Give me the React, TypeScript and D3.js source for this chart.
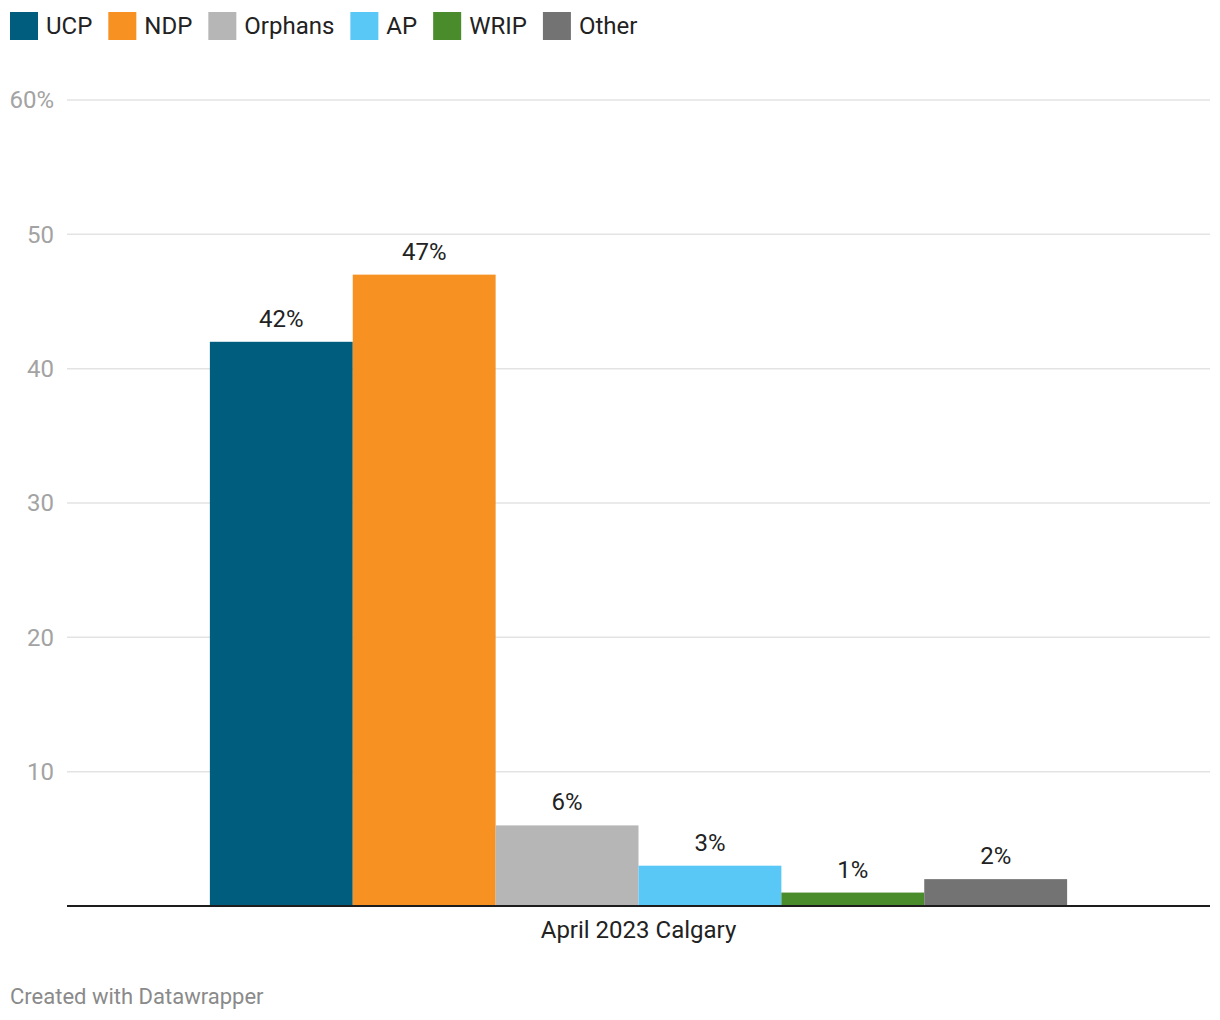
import React from "react";
import * as d3 from "d3";

const parties = ["UCP", "NDP", "Orphans", "AP", "WRIP", "Other"];
const values = [42, 47, 6, 3, 1, 2];
const colors = ["#015d7e", "#f79122", "#b6b6b6", "#5ac8f6", "#4a8b2c", "#737373"];
const category = "April 2023 Calgary";
const yTicks = [0, 10, 20, 30, 40, 50, 60];

const W = 1220;
const H = 1020;
const FONT = "Roboto, 'Noto Sans', sans-serif";

function measure(text: string, size: number) {
  const c = document.createElement("canvas");
  const ctx = c.getContext("2d")!;
  ctx.font = `${size}px Roboto`;
  return ctx.measureText(text).width;
}

export default function App() {
  const left = 67;
  const right = 1210;
  const top = 100;
  const bottom = 906;

  const y = d3.scaleLinear().domain([0, 60]).range([bottom, top]);
  const x0 = d3.scaleBand().domain([category]).range([left, right]).paddingInner(0).paddingOuter(0);
  const x1 = d3
    .scaleBand()
    .domain(parties)
    .range([x0(category)! + x0.bandwidth() / 8, x0(category)! + (x0.bandwidth() * 7) / 8]);

  // legend layout
  const legendItems: { x: number; name: string; color: string }[] = [];
  let lx = 10;
  parties.forEach((p, i) => {
    legendItems.push({ x: lx, name: p, color: colors[i] });
    lx += 36 + measure(p, 24) + 16;
  });

  return (
    <svg width={W} height={H} style={{ display: "block", position: "absolute", left: 0, top: 0, background: "#fff" }} fontFamily={FONT}>
      {legendItems.map((it) => (
        <g key={it.name}>
          <rect x={it.x} y={12} width={28} height={28} fill={it.color} />
          <text x={it.x + 36} y={34} fontSize={24} fill="#222">
            {it.name}
          </text>
        </g>
      ))}
      {yTicks.filter((t) => t > 0).map((t) => (
        <g key={t}>
          <line x1={left} x2={right} y1={y(t)} y2={y(t)} stroke="#e3e3e3" strokeWidth={1.5} />
          <text x={54} y={y(t)} dy="0.35em" fontSize={24} fill="#a3a3a3" textAnchor="end">
            {t === 60 ? `${t}%` : t}
          </text>
        </g>
      ))}
      {parties.map((p, i) => (
        <g key={p}>
          <rect
            x={x1(p)!}
            y={y(values[i])}
            width={x1.bandwidth()}
            height={y(0) - y(values[i])}
            fill={colors[i]}
          />
          <text
            x={x1(p)! + x1.bandwidth() / 2}
            y={y(values[i]) - 15}
            fontSize={24}
            fill="#222"
            textAnchor="middle"
          >
            {values[i]}%
          </text>
        </g>
      ))}
      <line x1={left} x2={right} y1={y(0)} y2={y(0)} stroke="#1d1d1d" strokeWidth={2} />
      <text x={x0(category)! + x0.bandwidth() / 2} y={938} fontSize={24} fill="#222" textAnchor="middle">
        {category}
      </text>
      <text x={10} y={1004} fontSize={22} fill="#8a8a8a">
        Created with Datawrapper
      </text>
    </svg>
  );
}
